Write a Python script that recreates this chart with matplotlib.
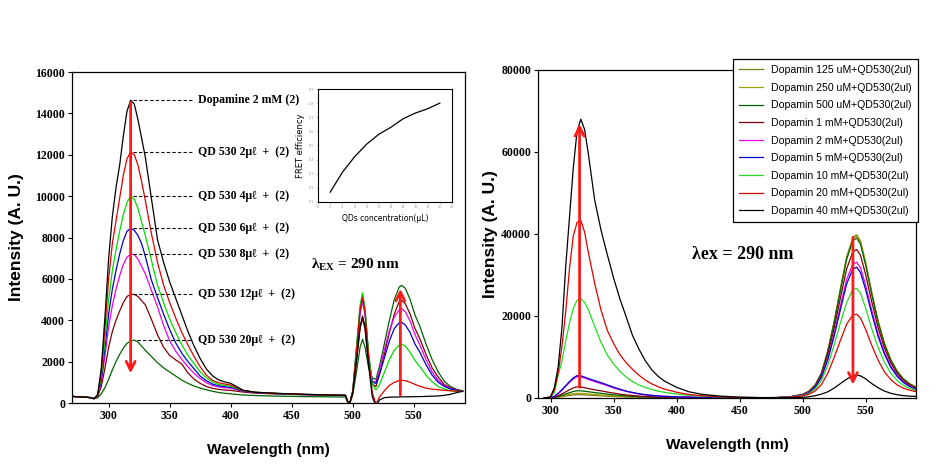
import numpy as np
import matplotlib
matplotlib.use("Agg")
import matplotlib.pyplot as plt

plt.rcParams['mathtext.fontset'] = 'custom'
plt.rcParams['mathtext.rm'] = 'Liberation Serif:bold'
plt.rcParams['mathtext.bf'] = 'Liberation Serif:bold'

# ---------------- left panel : QD titration of dopamine 2 mM ----------------
wl_left = [270, 275, 280, 285, 288,
           291, 294, 297, 300, 303,
           306, 309, 312, 315, 318,
           321, 324, 327, 330, 335,
           340, 345, 350, 355, 360,
           365, 370, 375, 380, 385,
           390, 395, 400, 410, 420,
           440, 460, 480, 494, 497,
           500, 503, 506, 508, 510,
           513, 516, 519, 522, 526,
           530, 534, 538, 540, 543,
           547, 551, 555, 560, 565,
           570, 575, 580, 585, 590]

dopa_2mM = [320, 300, 290, 260, 210,
            400, 1700, 4200, 7000, 9000,
            10400, 11500, 12900, 14100, 14640,
            14450, 13700, 12800, 11900, 9900,
            7900, 6800, 5850, 5050, 4250,
            3450, 2750, 2150, 1650, 1320,
            1120, 1020, 950, 620, 520,
            460, 420, 390, 370, -120,
            500, 2000, 3700, 4200, 3700,
            1800, 300, -150, 150, 260,
            280, 290, 290, 300, 300,
            300, 310, 310, 320, 330,
            340, 370, 420, 500, 570]

qd_2ul = [320, 300, 290, 260, 210,
          380, 1500, 3700, 6000, 7700,
          8800, 9900, 11000, 11800, 12140,
          12000, 11500, 10700, 9800, 8200,
          6800, 5700, 4850, 4100, 3400,
          2800, 2250, 1750, 1350, 1100,
          980, 920, 870, 610, 520,
          460, 420, 390, 370, -120,
          550, 2500, 4500, 5100, 4400,
          2200, 500, -50, 300, 600,
          850, 1000, 1090, 1100, 1080,
          1000, 900, 810, 720, 670,
          640, 610, 590, 570, 560]

qd_4ul = [320, 300, 290, 260, 210,
          370, 1300, 3100, 5000, 6400,
          7400, 8300, 9100, 9700, 10000,
          9850, 9400, 8750, 8100, 6900,
          5700, 4850, 4050, 3400, 2800,
          2300, 1900, 1500, 1220, 1020,
          900, 850, 810, 600, 520,
          460, 420, 390, 370, -120,
          600, 2700, 4700, 5330, 4600,
          2400, 900, 630, 900, 1500,
          2100, 2550, 2800, 2840, 2750,
          2450, 2050, 1750, 1350, 1020,
          800, 670, 600, 570, 550]

qd_6ul = [320, 300, 290, 260, 210,
          360, 1150, 2700, 4300, 5500,
          6400, 7200, 7850, 8300, 8440,
          8350, 8100, 7700, 7100, 5950,
          5100, 4300, 3550, 2900, 2400,
          2000, 1650, 1300, 1080, 920,
          830, 790, 760, 580, 510,
          450, 410, 390, 370, -120,
          600, 2600, 4600, 5220, 4500,
          2300, 1000, 950, 1400, 2200,
          3000, 3600, 3880, 3900, 3780,
          3400, 2850, 2450, 1850, 1350,
          1000, 800, 680, 610, 570]

qd_8ul = [320, 300, 290, 260, 210,
          350, 1000, 2300, 3700, 4700,
          5500, 6150, 6700, 7050, 7200,
          7180, 6950, 6600, 6250, 5450,
          4650, 3750, 3000, 2500, 2100,
          1750, 1430, 1180, 980, 850,
          780, 740, 720, 570, 500,
          450, 410, 390, 370, -120,
          550, 2400, 4300, 4900, 4300,
          2200, 1050, 1030, 1600, 2600,
          3500, 4150, 4500, 4560, 4420,
          3950, 3300, 2800, 2100, 1500,
          1100, 840, 700, 620, 570]

qd_12ul = [320, 300, 290, 260, 210,
           320, 800, 1700, 2700, 3450,
           4000, 4450, 4850, 5150, 5250,
           5250, 5150, 4950, 4750, 4050,
           3300, 2700, 2300, 2080, 1880,
           1450, 1150, 950, 800, 710,
           660, 630, 610, 530, 480,
           430, 400, 380, 360, -120,
           500, 2000, 3600, 4100, 3600,
           1900, 900, 800, 1400, 2400,
           3400, 4300, 4900, 4960, 4800,
           4300, 3600, 3100, 2350, 1700,
           1250, 900, 730, 640, 580]

qd_20ul = [320, 300, 290, 260, 210,
           250, 450, 750, 1150, 1600,
           2000, 2350, 2650, 2880, 3000,
           3040, 2950, 2750, 2550, 2250,
           1950, 1700, 1500, 1300, 1100,
           950, 820, 720, 640, 570,
           510, 470, 440, 390, 360,
           330, 310, 300, 290, -120,
           400, 1500, 2700, 3080, 2700,
           1700, 1200, 1150, 1800, 2900,
           4000, 5000, 5600, 5690, 5550,
           5000, 4250, 3700, 2850, 2100,
           1500, 1050, 800, 660, 590]

left_series = [dopa_2mM, qd_2ul, qd_4ul, qd_6ul, qd_8ul, qd_12ul, qd_20ul]
left_colors = ['black', '#e00000', '#00dd00', '#0000cc', '#ee00ee', '#800000', '#006400']
left_labels = ['Dopamine 2 mM (2)', 'QD 530 2μℓ  +  (2)', 'QD 530 4μℓ  +  (2)',
               'QD 530 6μℓ  +  (2)', 'QD 530 8μℓ  +  (2)', 'QD 530 12μℓ  +  (2)',
               'QD 530 20μℓ  +  (2)']

# inset : FRET efficiency
qd_conc = [2, 4, 6, 8, 10, 12, 14, 16, 18, 20]
fret_eff = [0.17, 0.31, 0.42, 0.51, 0.58, 0.63, 0.69, 0.73, 0.76, 0.80]

# ---------------- right panel : dopamine titration of QD530 ----------------
wl_right = [295, 300, 303, 306, 309, 312, 315, 318, 321, 324,
            327, 330, 335, 340, 345, 350, 355, 360, 365, 370,
            375, 380, 385, 390, 400, 410, 420, 435, 450, 465,
            480, 490, 500, 505, 510, 515, 520, 525, 530, 535,
            540, 543, 546, 550, 555, 560, 565, 570, 575, 580,
            585, 590]

d_125uM = [0, 10, 60, 170, 320, 480, 620, 730, 790, 790,
           750, 700, 610, 530, 440, 360, 290, 230, 190, 150,
           120, 100, 80, 70, 60, 50, 40, 40, 40, 50,
           100, 280, 880, 1650, 3200, 6100, 11500, 18500, 26600, 34400,
           39200, 39800, 38300, 33200, 25700, 18800, 13400, 9400, 6600, 4700,
           3500, 2650]
d_250uM = [0, 15, 90, 250, 470, 720, 930, 1060, 1140, 1130,
           1070, 990, 860, 740, 620, 500, 410, 330, 260, 210,
           170, 140, 110, 90, 70, 60, 50, 40, 40, 50,
           100, 280, 870, 1630, 3150, 6050, 11400, 18400, 26400, 34100,
           38900, 39500, 38000, 33000, 25500, 18600, 13300, 9300, 6550, 4650,
           3450, 2620]
d_500uM = [0, 20, 130, 350, 650, 980, 1300, 1580, 1760, 1750,
           1650, 1520, 1320, 1150, 950, 780, 630, 500, 400, 320,
           260, 210, 170, 140, 100, 80, 60, 50, 40, 50,
           100, 280, 850, 1600, 3100, 6000, 11300, 18200, 26100, 33800,
           38400, 39000, 37500, 32500, 25200, 18400, 13100, 9200, 6500, 4600,
           3400, 2600]
d_1mM = [0, 30, 200, 550, 1000, 1500, 2000, 2450, 2720, 2680,
         2500, 2300, 2000, 1750, 1450, 1200, 950, 760, 600, 480,
         380, 310, 250, 200, 150, 110, 90, 70, 60, 60,
         100, 250, 800, 1500, 2900, 5600, 10500, 16900, 24300, 31500,
         35700, 36200, 34800, 30200, 23400, 17100, 12200, 8600, 6000, 4300,
         3200, 2400]
d_2mM = [0, 50, 380, 1050, 1900, 2850, 3800, 4650, 5200, 5150,
         4850, 4500, 4000, 3500, 3000, 2450, 2000, 1600, 1250, 980,
         770, 610, 490, 400, 290, 210, 150, 100, 80, 70,
         100, 250, 750, 1400, 2700, 5200, 9700, 15600, 22400, 28900,
         32700, 33100, 31800, 27600, 21300, 15600, 11100, 7800, 5500, 3900,
         2900, 2200]
d_5mM = [0, 50, 400, 1100, 2000, 3000, 4000, 4900, 5450, 5400,
         5100, 4750, 4250, 3750, 3200, 2650, 2150, 1700, 1350, 1050,
         820, 650, 520, 420, 300, 220, 160, 110, 80, 70,
         100, 250, 700, 1300, 2600, 5000, 9300, 15000, 21500, 27800,
         31500, 31900, 30600, 26500, 20500, 15000, 10700, 7500, 5300, 3800,
         2800, 2150]
d_10mM = [0, 150, 1300, 5500, 9000, 13800, 18300, 21800, 23800, 24200,
          23300, 21500, 17500, 13600, 10500, 8300, 6500, 5100, 4000, 3200,
          2600, 2100, 1700, 1400, 950, 650, 450, 280, 150, 100,
          100, 200, 600, 1100, 2200, 4300, 8000, 12800, 18300, 23300,
          26500, 26700, 25600, 22000, 16800, 12300, 8700, 6100, 4300, 3100,
          2300, 1800]
d_20mM = [0, 200, 2000, 6000, 12500, 21000, 31500, 39500, 42800, 43300,
          40500, 35500, 28000, 21500, 16500, 13300, 10600, 8600, 7000, 5600,
          4400, 3500, 2800, 2200, 1400, 850, 550, 300, 150, 100,
          100, 200, 500, 900, 1700, 3300, 6000, 9800, 14000, 18000,
          20300, 20400, 19500, 16800, 12800, 9200, 6400, 4500, 3200, 2400,
          1900, 1550]
d_40mM = [0, 300, 2500, 7500, 17000, 32000, 44000, 56000, 65000, 68000,
          65500, 59500, 48300, 41000, 35000, 29300, 24200, 19800, 15300, 12000,
          9200, 7000, 5400, 4200, 2600, 1500, 900, 450, 200, 100,
          60, 80, 150, 300, 550, 950, 1500, 2400, 3500, 4600,
          5400, 5600, 5400, 4700, 3500, 2500, 1700, 1150, 800, 580,
          450, 380]

right_series = [d_125uM, d_250uM, d_500uM, d_1mM, d_2mM, d_5mM, d_10mM, d_20mM, d_40mM]
right_colors = ['#7a7a1a', '#a0a000', '#006400', '#800000', '#ee00ee', '#0000cc',
                '#22dd22', '#e00000', 'black']
right_labels = ['Dopamin 125 uM+QD530(2ul)', 'Dopamin 250 uM+QD530(2ul)',
                'Dopamin 500 uM+QD530(2ul)', 'Dopamin 1 mM+QD530(2ul)',
                'Dopamin 2 mM+QD530(2ul)', 'Dopamin 5 mM+QD530(2ul)',
                'Dopamin 10 mM+QD530(2ul)', 'Dopamin 20 mM+QD530(2ul)',
                'Dopamin 40 mM+QD530(2ul)']

serif = ['Liberation Serif', 'DejaVu Serif']
sans = ['Liberation Sans', 'DejaVu Sans']
arrow_red = '#ff1a1a'


def style_axes(ax):
    for s in ax.spines.values():
        s.set_linewidth(0.9)
    ax.tick_params(direction='out', length=3, width=0.8, top=False, right=False, pad=2)
    for lab in ax.get_xticklabels() + ax.get_yticklabels():
        lab.set_fontfamily(serif)
        lab.set_fontweight('bold')
        lab.set_fontsize(8.5)


fig = plt.figure(figsize=(9.53, 4.65), dpi=100)

# ---------------- left ----------------
ax1 = fig.add_axes([0.0756, 0.1333, 0.4124, 0.7118])
for ys, c in zip(left_series[::-1], left_colors[::-1]):
    ax1.plot(wl_left, ys, color=c, lw=0.9)
ax1.set_xlim(270, 592)
ax1.set_ylim(0, 16000)
ax1.set_xticks(np.arange(300, 551, 50))
ax1.set_yticks(np.arange(0, 16001, 2000))
style_axes(ax1)
ax1.set_xlabel('Wavelength (nm)', fontfamily=sans, fontweight='bold', fontsize=11, labelpad=15)
ax1.set_ylabel('Intensity (A. U.)', fontfamily=sans, fontweight='bold', fontsize=12.5, labelpad=8)

# dashed leader lines + labels, at the top of the dopamine band (< 400 nm)
n_band = sum(1 for w in wl_left if w < 400)
for ys, lab in zip(left_series, left_labels):
    i = int(np.argmax(ys[:n_band]))
    ax1.plot([wl_left[i] + 2, 368], [ys[i], ys[i]], color='black', lw=0.8, ls=(0, (3, 2)))
    ax1.text(373, ys[i], lab, fontfamily=serif, fontweight='bold', fontsize=8.5,
             va='center', ha='left')

ax1.annotate('', xy=(318, 1300), xytext=(318, 14650),
             arrowprops=dict(arrowstyle='->', color=arrow_red, lw=2, mutation_scale=16))
ax1.annotate('', xy=(539, 5650), xytext=(539, 250),
             arrowprops=dict(arrowstyle='->', color=arrow_red, lw=2, mutation_scale=16))
ax1.text(466, 6650, r'$\mathrm{\lambda_{EX}}$ = 290 nm', fontfamily=serif,
         fontweight='bold', fontsize=11, va='center', ha='left')

# inset
axi = fig.add_axes([0.3337, 0.5656, 0.1406, 0.243])
axi.plot(qd_conc, fret_eff, color='black', lw=0.9)
axi.set_xlim(0, 22)
axi.set_ylim(0.1, 0.9)
axi.set_xticks(np.arange(0, 23, 2))
axi.set_yticks(np.arange(0.1, 0.91, 0.1))
axi.set_yticklabels(['%.1f' % v for v in np.arange(0.1, 0.91, 0.1)])
axi.tick_params(labelsize=2.5, labelcolor='#999999', length=1, width=0.4, pad=1.5)
for s in axi.spines.values():
    s.set_linewidth(0.8)
axi.set_xlabel('QDs concentration(μL)', fontsize=5.5, labelpad=3)
axi.set_ylabel('FRET efficiency', fontsize=6, labelpad=3)

# ---------------- right ----------------
ax2 = fig.add_axes([0.5645, 0.1441, 0.3966, 0.7054])
for ys, c, lab in zip(right_series, right_colors, right_labels):
    ax2.plot(wl_right, ys, color=c, lw=0.9, label=lab)
ax2.set_xlim(290, 590)
ax2.set_ylim(0, 80000)
ax2.set_xticks(np.arange(300, 551, 50))
ax2.set_yticks(np.arange(0, 80001, 20000))
style_axes(ax2)
ax2.set_xlabel('Wavelength (nm)', fontfamily=sans, fontweight='bold', fontsize=11, labelpad=15)
ax2.set_ylabel('Intensity (A. U.)', fontfamily=sans, fontweight='bold', fontsize=12.5, labelpad=2)

ax2.annotate('', xy=(323, 67500), xytext=(323, 1900),
             arrowprops=dict(arrowstyle='->', color=arrow_red, lw=2, mutation_scale=16))
ax2.annotate('', xy=(540, 2600), xytext=(540, 39800),
             arrowprops=dict(arrowstyle='->', color=arrow_red, lw=2, mutation_scale=16))
ax2.text(412, 34900, 'λex = 290 nm', fontfamily=serif, fontweight='bold', fontsize=13,
         va='center', ha='left')

leg = ax2.legend(loc='upper right', bbox_to_anchor=(1.005, 1.034), borderaxespad=0,
                 prop={'family': sans, 'size': 7.6}, frameon=True, fancybox=False,
                 framealpha=1, edgecolor='black', handlelength=2.3, handletextpad=0.7,
                 labelspacing=0.72, borderpad=0.6)
leg.get_frame().set_linewidth(0.9)

fig.savefig('out.png', dpi=100)
